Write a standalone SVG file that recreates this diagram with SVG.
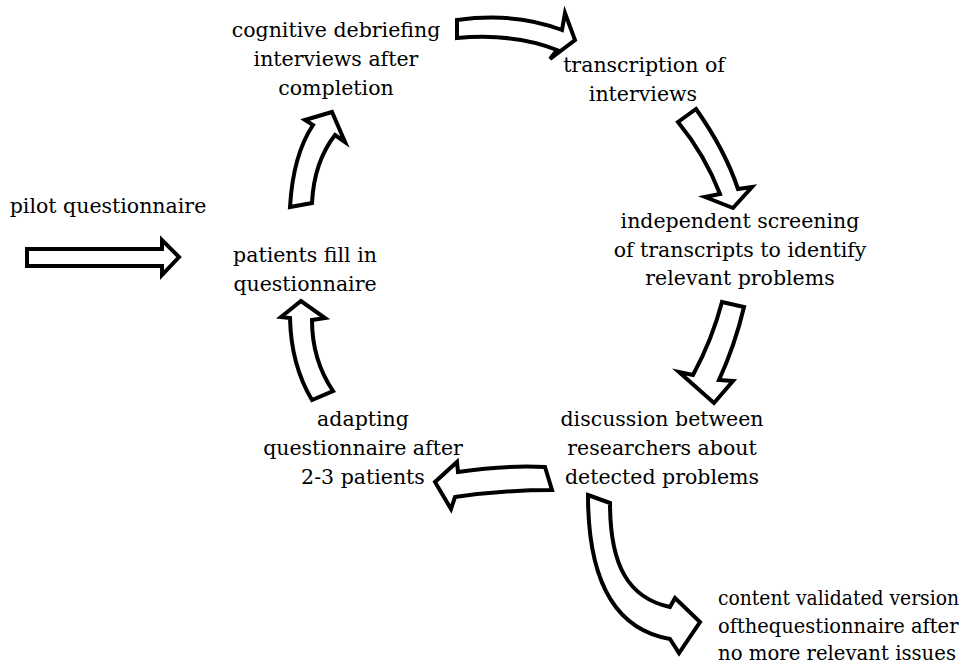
<svg xmlns="http://www.w3.org/2000/svg" width="966" height="665" viewBox="0 0 966 665">
<style>
.t{font-family:"DejaVu Serif","Liberation Serif",serif;font-size:20.5px;fill:#000;text-anchor:middle}
.l{text-anchor:start}
.a{fill:#fff;stroke:#000;stroke-width:4;stroke-linejoin:miter;stroke-miterlimit:6}
</style>
<rect width="966" height="665" fill="#fff"/>
<g id="connectors">
<path class="a" d="M27,249 L162,249 L162,240 L179,257 L162,275 L162,266 L27,266 Z"/>
<path class="a" d="M457,20 Q515,12 562,30 L565,13 L575,40 L550,59 L557,50 Q515,33 457,38 Z"/>
<path class="a" d="M678,122 L696,109 Q725,150 738,189 L752,187 L733,208 L705,197 L720,194 Q705,155 678,122 Z"/>
<path class="a" d="M722,302 L744,307 Q735,345 719,380 L733,381 L714,403 L679,372 L693,375 Q712,340 722,302 Z"/>
<path class="a" d="M545,467 L552,490 Q505,490 455,497 L451,509 L435,482 L457,462 L458,472 Q505,465 545,467 Z"/>
<path class="a" d="M312,400 Q291,365 290,318 L281,317 L301,301 L325,318 L312,320 Q312,360 333,391 Z"/>
<path class="a" d="M290,207 Q293,155 313,125 L305,120 L332,112 L345,142 L335,135 Q314,162 312,203 Z"/>
<path class="a" d="M588,495 L610,503 C610,565 628,598 670,607 L675,598 L700,622 L679,653 L670,639 C618,630 588,585 588,495 Z"/>
</g>
<g id="pilot"><text class="t" x="108" y="213">pilot questionnaire</text></g>
<g id="patients"><text class="t" x="305" y="262">patients fill in</text><text class="t" x="305" y="291">questionnaire</text></g>
<g id="cognitive"><text class="t" x="336" y="37">cognitive debriefing</text><text class="t" x="336" y="66">interviews after</text><text class="t" x="336" y="95">completion</text></g>
<g id="transcription"><text class="t" x="644" y="72">transcription of</text><text class="t" x="643" y="101">interviews</text></g>
<g id="screening"><text class="t" x="740" y="228">independent screening</text><text class="t" x="740" y="257">of transcripts to identify</text><text class="t" x="740" y="285">relevant problems</text></g>
<g id="discussion"><text class="t" x="662" y="426">discussion between</text><text class="t" x="662" y="455">researchers about</text><text class="t" x="662" y="484">detected problems</text></g>
<g id="adapting"><text class="t" x="363" y="426">adapting</text><text class="t" x="363" y="455">questionnaire after</text><text class="t" x="363" y="484">2-3 patients</text></g>
<g id="validated"><text class="t l" transform="translate(718,605) scale(0.915,1)">content validated version</text><text class="t l" transform="translate(718,633) scale(0.95,1)">ofthequestionnaire after</text><text class="t l" transform="translate(718,660) scale(0.96,1)">no more relevant issues</text></g>
</svg>
